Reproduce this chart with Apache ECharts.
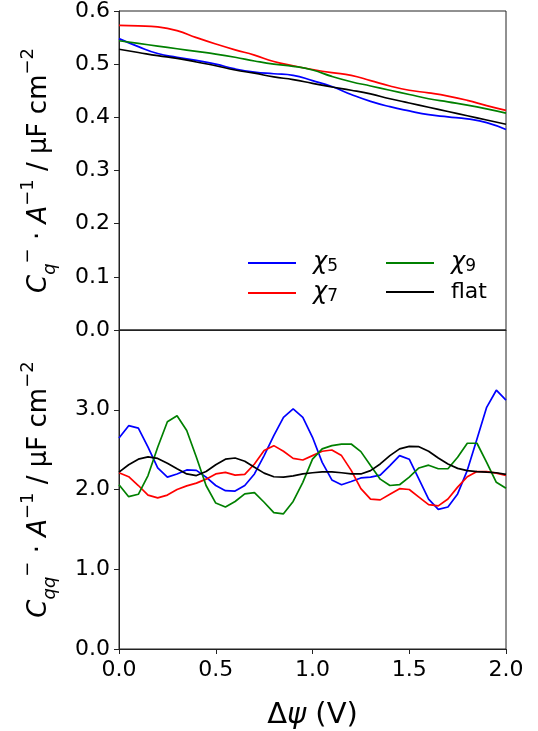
<!DOCTYPE html>
<html>
<head>
<meta charset="utf-8">
<script src="https://cdn.jsdelivr.net/npm/echarts@6/dist/echarts.min.js"></script>
<style>html,body{margin:0;padding:0;background:#fff}#c{width:538px;height:731px}</style>
</head>
<body>
<div id="c"></div>
<script>
// Top panel: Δψ at 0.1 steps
const xTop = [0,0.1,0.2,0.3,0.4,0.5,0.6,0.7,0.8,0.9,1.0,1.1,1.2,1.3,1.4,1.5,1.6,1.7,1.8,1.9,2.0];
const cqChi5 = [0.548,0.533,0.520,0.513,0.507,0.500,0.491,0.485,0.482,0.479,0.469,0.458,0.443,0.430,0.420,0.412,0.405,0.401,0.397,0.390,0.377];
const cqChi7 = [0.573,0.572,0.570,0.563,0.550,0.538,0.527,0.517,0.505,0.497,0.490,0.484,0.479,0.469,0.459,0.451,0.446,0.440,0.432,0.422,0.413];
const cqChi9 = [0.544,0.539,0.534,0.529,0.524,0.519,0.513,0.506,0.500,0.496,0.489,0.477,0.467,0.459,0.451,0.443,0.435,0.429,0.423,0.416,0.408];
const cqFlat = [0.528,0.522,0.516,0.511,0.504,0.497,0.489,0.483,0.476,0.471,0.464,0.457,0.451,0.444,0.435,0.427,0.419,0.411,0.403,0.395,0.387];

// Bottom panel: Δψ at 0.05 steps
const xBot = [0,0.05,0.1,0.15,0.2,0.25,0.3,0.35,0.4,0.45,0.5,0.55,0.6,0.65,0.7,0.75,0.8,0.85,0.9,0.95,1.0,1.05,1.1,1.15,1.2,1.25,1.3,1.35,1.4,1.45,1.5,1.55,1.6,1.65,1.7,1.75,1.8,1.85,1.9,1.95,2.0];
const cqqChi5 = [2.645,2.80,2.77,2.53,2.27,2.155,2.195,2.245,2.24,2.155,2.05,1.985,1.98,2.05,2.195,2.425,2.675,2.905,3.01,2.905,2.655,2.34,2.12,2.06,2.10,2.145,2.155,2.18,2.30,2.425,2.38,2.13,1.88,1.75,1.78,1.945,2.24,2.633,3.03,3.245,3.12];
const cqqChi7 = [2.21,2.16,2.05,1.93,1.895,1.93,2.00,2.045,2.08,2.13,2.195,2.215,2.18,2.19,2.32,2.49,2.55,2.48,2.39,2.37,2.425,2.48,2.495,2.425,2.24,2.01,1.88,1.87,1.94,2.01,2.00,1.905,1.81,1.795,1.88,2.03,2.16,2.225,2.225,2.205,2.175];
const cqqChi9 = [2.06,1.91,1.94,2.175,2.53,2.85,2.925,2.74,2.405,2.05,1.83,1.78,1.85,1.945,1.96,1.84,1.71,1.695,1.85,2.09,2.38,2.51,2.55,2.57,2.57,2.475,2.30,2.13,2.05,2.06,2.155,2.27,2.305,2.26,2.26,2.405,2.58,2.58,2.34,2.09,2.015];
const cqqFlat = [2.217,2.31,2.38,2.41,2.39,2.33,2.26,2.195,2.175,2.225,2.31,2.38,2.395,2.355,2.28,2.205,2.16,2.155,2.17,2.195,2.21,2.22,2.22,2.21,2.195,2.195,2.237,2.32,2.425,2.51,2.54,2.537,2.48,2.395,2.32,2.265,2.237,2.225,2.217,2.21,2.19];

const xTicks = [0,0.5,1.0,1.5,2.0];
const topTicks = [0,0.1,0.2,0.3,0.4,0.5,0.6];
const botTicks = [0,1,2,3];

const names = ['χ5','χ7','χ9','flat'];
const colors = ['#0000ff','#ff0000','#008000','#000000'];
const FONT = 'DejaVu Sans';

const zip = (xs, ys) => xs.map((x,i)=>[x, ys[i]]);
const topData = [cqChi5, cqChi7, cqChi9, cqFlat];
const botData = [cqqChi5, cqqChi7, cqqChi9, cqqFlat];

const LH = 40;
const nameRich = {
  n: {fontFamily: FONT, fontSize: 26, color:'#000', lineHeight: LH},
  it: {fontFamily: FONT, fontSize: 26, fontStyle:'italic', color:'#000', lineHeight: LH},
  sub: {fontFamily: FONT, fontSize: 18, fontStyle:'italic', color:'#000', verticalAlign:'bottom', lineHeight: LH},
  sup: {fontFamily: FONT, fontSize: 18, color:'#000', verticalAlign:'top', lineHeight: LH}
};

const chart = echarts.init(document.getElementById('c'), null, {renderer:'canvas'});

const axisLabelStyle = {fontFamily: FONT, fontSize: 22, color:'#000'};
const series = [];
names.forEach((n,i)=>{
  series.push({name:n, type:'line', xAxisIndex:0, yAxisIndex:0, data: zip(xTop, topData[i]), smooth: true, showSymbol:false, symbol:'none', lineStyle:{color:colors[i], width:1.7}, itemStyle:{color:colors[i]}, animation:false});
  series.push({name:n, type:'line', xAxisIndex:1, yAxisIndex:1, data: zip(xBot, botData[i]), smooth: false, showSymbol:false, symbol:'none', lineStyle:{color:colors[i], width:1.7}, itemStyle:{color:colors[i]}, animation:false});
});

const legendFmt = (name) => name === 'flat' ? '{n|flat}' : '{i|χ}{s|' + name.slice(1) + '}';
const legendText = {
  fontFamily: FONT, fontSize: 22, color:'#000', padding:[0,0,0,12],
  rich: {
    n: {fontFamily: FONT, fontSize: 22, color:'#000'},
    i: {fontFamily: FONT, fontSize: 24, fontStyle:'italic', color:'#000'},
    s: {fontFamily: FONT, fontSize: 17, color:'#000', verticalAlign:'bottom', padding:[6,0,0,0]}
  }
};

chart.setOption({
  backgroundColor:'#fff',
  animation:false,
  grid:[
    {left:119, top:11, width:387, height:319, show:true, borderColor:'#222', borderWidth:1, backgroundColor:'transparent'},
    {left:119, top:330, width:387, height:319, show:true, borderColor:'#222', borderWidth:1, backgroundColor:'transparent'}
  ],
  legend:[
    {data:['χ5','χ7'], orient:'vertical', left:243, top:246, icon:'rect', itemWidth:48, itemHeight:2, itemGap:6, formatter: legendFmt, textStyle: legendText, selectedMode:false},
    {data:['χ9','flat'], orient:'vertical', left:381, top:246, icon:'rect', itemWidth:48, itemHeight:2, itemGap:6, formatter: legendFmt, textStyle: legendText, selectedMode:false}
  ],
  xAxis:[
    {gridIndex:0, type:'value', min:0, max:2, interval:0.5, axisLabel:{show:false}, axisTick:{show:false}, axisLine:{show:true, lineStyle:{color:'#222'}}, splitLine:{show:false}},
    {gridIndex:1, type:'value', min:0, max:2, interval:0.5,
     axisLabel:{...axisLabelStyle, margin:10, formatter: v => v.toFixed(1)},
     axisTick:{show:true, length:5, inside:false, lineStyle:{color:'#222'}},
     axisLine:{show:true, lineStyle:{color:'#222'}}, splitLine:{show:false},
     name:'Δ{it|ψ} (V)', nameLocation:'middle', nameGap:52,
     nameTextStyle:{fontFamily: FONT, fontSize:29, color:'#000', rich:{it:{fontFamily:FONT, fontSize:29, fontStyle:'italic', color:'#000'}}}}
  ],
  yAxis:[
    {gridIndex:0, type:'value', min:0, max:0.6, interval:0.1,
     axisLabel:{...axisLabelStyle, margin:9, formatter: v => v.toFixed(1)},
     axisTick:{show:true, length:5, lineStyle:{color:'#222'}},
     axisLine:{show:true, lineStyle:{color:'#222'}}, splitLine:{show:false},
     name:'{it|C}{sub|q}{sup|−}{n| · }{it|A}{sup|−1}{n| / μF cm}{sup|−2}', nameLocation:'middle', nameRotate:90, nameGap:60,
     nameTextStyle:{rich:nameRich}},
    {gridIndex:1, type:'value', min:0, max:4, interval:1,
     axisLabel:{...axisLabelStyle, margin:9, formatter: v => v >= 4 ? '' : v.toFixed(1)},
     axisTick:{show:true, length:5, lineStyle:{color:'#222'}},
     axisLine:{show:true, lineStyle:{color:'#222'}}, splitLine:{show:false},
     name:'{it|C}{sub|qq}{sup|−}{n| · }{it|A}{sup|−1}{n| / μF cm}{sup|−2}', nameLocation:'middle', nameRotate:90, nameGap:60,
     nameTextStyle:{rich:nameRich}}
  ],
  series: series
});
</script>
</body>
</html>
